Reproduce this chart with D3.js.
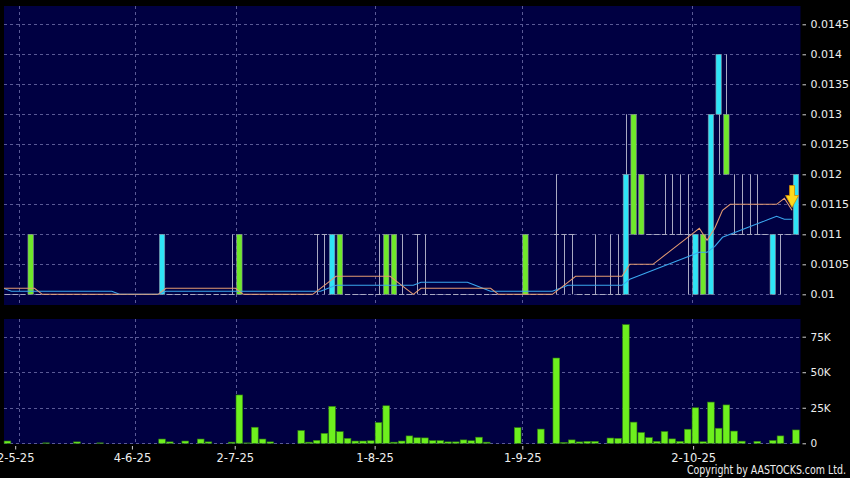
<!DOCTYPE html>
<html>
<head>
<meta charset="utf-8">
<script src="https://cdn.jsdelivr.net/npm/d3@7"></script>
<style>
  html, body { margin: 0; padding: 0; background: #000; }
  svg { display: block; font-family: "DejaVu Sans", Verdana, sans-serif; }
</style>
</head>
<body>
<svg id="chart" width="850" height="478"></svg>
<script>
// daily candles, one slot per trading day (slot 0 .. 102)
const opens = [
  0.01,0.01,0.01,0.011,0.01,0.01,0.01,0.01,0.01,0.01,
  0.01,0.01,0.01,0.01,0.01,0.01,0.01,0.01,0.01,0.01,
  0.01,0.01,0.01,0.01,0.01,0.01,0.01,0.01,0.01,0.01,
  0.011,0.01,0.01,0.01,0.01,0.01,0.01,0.01,0.01,0.01,
  0.011,0.011,0.01,0.011,0.01,0.01,0.01,0.01,0.01,0.011,
  0.011,0.01,0.01,0.011,0.01,0.01,0.01,0.01,0.01,0.01,
  0.01,0.01,0.01,0.01,0.01,0.01,0.01,0.011,0.01,0.01,
  0.01,0.011,0.011,0.011,0.01,0.01,0.01,0.01,0.01,0.01,
  0.01,0.013,0.012,0.011,0.011,0.011,0.011,0.011,0.011,0.01,
  0.011,0.01,0.013,0.013,0.011,0.011,0.011,0.011,0.011,0.01,
  0.011,0.011,0.011
];
const highs = [
  0.01,0.01,0.01,0.011,0.01,0.01,0.01,0.01,0.01,0.01,
  0.01,0.01,0.01,0.01,0.01,0.01,0.01,0.01,0.01,0.01,
  0.011,0.01,0.01,0.01,0.01,0.01,0.01,0.01,0.01,0.011,
  0.011,0.01,0.01,0.01,0.01,0.01,0.01,0.01,0.01,0.01,
  0.011,0.011,0.011,0.011,0.01,0.01,0.01,0.01,0.011,0.011,
  0.011,0.011,0.01,0.011,0.011,0.01,0.01,0.01,0.01,0.01,
  0.01,0.01,0.01,0.01,0.01,0.01,0.01,0.011,0.01,0.01,
  0.01,0.012,0.011,0.011,0.01,0.01,0.011,0.01,0.011,0.011,
  0.013,0.013,0.012,0.011,0.011,0.012,0.012,0.012,0.012,0.011,
  0.011,0.013,0.014,0.014,0.012,0.012,0.012,0.012,0.011,0.011,
  0.011,0.011,0.012
];
const lows = [
  0.01,0.01,0.01,0.01,0.01,0.01,0.01,0.01,0.01,0.01,
  0.01,0.01,0.01,0.01,0.01,0.01,0.01,0.01,0.01,0.01,
  0.01,0.01,0.01,0.01,0.01,0.01,0.01,0.01,0.01,0.01,
  0.01,0.01,0.01,0.01,0.01,0.01,0.01,0.01,0.01,0.01,
  0.01,0.01,0.01,0.01,0.01,0.01,0.01,0.01,0.01,0.01,
  0.01,0.01,0.01,0.01,0.01,0.01,0.01,0.01,0.01,0.01,
  0.01,0.01,0.01,0.01,0.01,0.01,0.01,0.01,0.01,0.01,
  0.01,0.01,0.01,0.01,0.01,0.01,0.01,0.01,0.01,0.01,
  0.01,0.011,0.011,0.011,0.011,0.011,0.011,0.011,0.01,0.01,
  0.01,0.01,0.012,0.012,0.011,0.011,0.011,0.011,0.011,0.01,
  0.01,0.011,0.011
];
const closes = [
  0.01,0.01,0.01,0.01,0.01,0.01,0.01,0.01,0.01,0.01,
  0.01,0.01,0.01,0.01,0.01,0.01,0.01,0.01,0.01,0.01,
  0.011,0.01,0.01,0.01,0.01,0.01,0.01,0.01,0.01,0.01,
  0.01,0.01,0.01,0.01,0.01,0.01,0.01,0.01,0.01,0.01,
  0.011,0.011,0.011,0.01,0.01,0.01,0.01,0.01,0.01,0.01,
  0.01,0.01,0.01,0.011,0.01,0.01,0.01,0.01,0.01,0.01,
  0.01,0.01,0.01,0.01,0.01,0.01,0.01,0.01,0.01,0.01,
  0.01,0.011,0.011,0.011,0.01,0.01,0.01,0.01,0.01,0.01,
  0.012,0.011,0.011,0.011,0.011,0.011,0.011,0.011,0.011,0.011,
  0.01,0.013,0.014,0.012,0.011,0.011,0.011,0.011,0.011,0.011,
  0.011,0.011,0.012
];
// volume in thousands of shares
const volumes = [
  1.6,0,0,0,0,0.3,0,0,0,1.0,
  0,0,0.3,0,0,0,0,0,0,0,
  3.0,1.0,0,1.6,0,3.0,1.0,0,0,0.8,
  34,0.3,11.3,3.0,1.0,0,0,0,9.0,0.8,
  2.1,7.0,26,8.2,3.5,1.6,1.6,1.8,14.6,26.4,
  0.8,1.6,5.2,3.9,3.8,1.9,1.9,1.0,1.0,2.4,
  1.8,4.3,0.8,0,0,0,11,0,0,10,
  0,60,0.6,2.4,1.0,1.4,1.4,0,3.7,3.5,
  83.5,14.9,7.6,4.0,1.4,8.3,3.1,1.4,9.9,25,
  1.1,29,10.6,27,8.6,1.5,0,1.4,0,2.0,
  5.2,0,9.4
];
// moving averages, starting at slot -1 (orange = 10 day, blue = 20 day)
const maStart = -1;
const ma10 = [
  0.0101,0.0101,0.0101,0.0101,0.0101,
  0.01,0.01,0.01,0.01,0.01,0.01,0.01,0.01,0.01,0.01,0.01,0.01,0.01,0.01,0.01,0.01,
  0.0101,0.0101,0.0101,0.0101,0.0101,0.0101,0.0101,0.0101,0.0101,0.0101,
  0.01,0.01,0.01,0.01,0.01,0.01,0.01,0.01,0.01,0.01,
  0.0101,0.0102,0.0103,0.0103,0.0103,0.0103,0.0103,0.0103,0.0103,0.0103,
  0.0102,0.0101,0.01,
  0.0101,0.0101,0.0101,0.0101,0.0101,0.0101,0.0101,0.0101,0.0101,0.0101,
  0.01,0.01,0.01,0.01,0.01,0.01,0.01,0.01,
  0.0101,0.0102,0.0103,0.0103,0.0103,0.0103,0.0103,0.0103,0.0103,
  0.0105,0.0105,0.0105,0.0105,0.0106,0.0107,0.0108,0.0109,0.011,0.0111,
  0.0109,0.0111,0.0114,0.0115,0.0115,0.0115,0.0115,0.0115,0.0115,0.0115,
  0.0116,0.0114
];
const ma20 = [
  0.0101,
  0.01005,0.01005,0.01005,0.01005,0.01005,0.01005,0.01005,0.01005,0.01005,0.01005,0.01005,0.01005,0.01005,0.01005,
  0.01,0.01,0.01,0.01,0.01,0.01,
  0.01005,0.01005,0.01005,0.01005,0.01005,0.01005,0.01005,0.01005,0.01005,0.01005,
  0.01005,0.01005,0.01005,0.01005,0.01005,0.01005,0.01005,0.01005,0.01005,0.01005,0.01005,
  0.0101,
  0.01015,0.01015,0.01015,0.01015,0.01015,0.01015,0.01015,0.01015,0.01015,0.01015,0.01015,
  0.0102,0.0102,0.0102,0.0102,0.0102,0.0102,0.0102,
  0.01015,0.0101,
  0.01005,0.01005,0.01005,0.01005,0.01005,0.01005,0.01005,0.01005,0.01005,
  0.0101,
  0.01015,0.01015,0.01015,0.01015,0.01015,0.01015,0.01015,0.01015,
  0.01025,0.0103,0.01035,0.0104,0.01045,0.0105,0.01055,0.0106,0.01065,0.0107,
  0.0107,0.0108,0.01095,0.011,0.01105,0.0111,0.01115,0.0112,0.01125,0.0113,
  0.01125,0.01125
];

const priceTicks = [0.01,0.0105,0.011,0.0115,0.012,0.0125,0.013,0.0135,0.014,0.0145];
const volTicks = [0,25,50,75];
const dateLabels = ["2-5-25","4-6-25","2-7-25","1-8-25","1-9-25","2-10-25"];
const dateTickSlots = [1,16.1,29.4,47.5,66.6,88.7];
const dateGridSlots = [1.5,16.5,29.5,47.5,66.5,88.5];
const signal = {slot: 101.5, price: 0.01163};

const mainTop = 6, mainBottom = 305, volTop = 319, volBottom = 444;
const plotLeft = 4, plotRight = 800.5;

const svg = d3.select("#chart");
svg.append("rect").attr("width", 850).attr("height", 478).attr("fill", "#000");

const x = d3.scaleLinear().domain([-0.5, 102.5]).range([3.6, 799.8]);
const y = d3.scaleLinear().domain([0.009822, 0.014805]).range([mainBottom, mainTop]);
const yVol = d3.scaleLinear().domain([0, 87.45]).range([443.3, volTop]);

const gridColor = "#5a5a96";

// panels
svg.append("rect").attr("x", plotLeft).attr("y", mainTop)
  .attr("width", plotRight - plotLeft).attr("height", mainBottom - mainTop).attr("fill", "#000042");
svg.append("rect").attr("x", plotLeft).attr("y", volTop)
  .attr("width", plotRight - plotLeft).attr("height", volBottom - volTop).attr("fill", "#000042");

const defs = svg.append("defs");
defs.append("clipPath").attr("id", "clipMain").append("rect")
  .attr("x", plotLeft).attr("y", mainTop).attr("width", plotRight - plotLeft).attr("height", mainBottom - mainTop);

// grids
svg.append("g").selectAll("line").data(priceTicks).enter().append("line")
  .attr("x1", plotLeft).attr("x2", plotRight)
  .attr("y1", d => Math.round(y(d)) + 0.5).attr("y2", d => Math.round(y(d)) + 0.5)
  .attr("stroke", gridColor).attr("stroke-dasharray", "3,3");
svg.append("g").selectAll("line").data(volTicks).enter().append("line")
  .attr("x1", plotLeft).attr("x2", plotRight)
  .attr("y1", d => Math.round(yVol(d)) + 0.5).attr("y2", d => Math.round(yVol(d)) + 0.5)
  .attr("stroke", gridColor).attr("stroke-dasharray", "3,3");
const vg = svg.append("g");
dateGridSlots.forEach(s => {
  const gx = Math.round(x(s)) + 0.5;
  vg.append("line").attr("x1", gx).attr("x2", gx).attr("y1", mainTop).attr("y2", mainBottom)
    .attr("stroke", gridColor).attr("stroke-dasharray", "3,3");
  vg.append("line").attr("x1", gx).attr("x2", gx).attr("y1", volTop).attr("y2", volBottom)
    .attr("stroke", gridColor).attr("stroke-dasharray", "3,3");
});

// candles
const candles = closes.map((c, i) => ({i, o: opens[i], h: highs[i], l: lows[i], c}));
const cg = svg.append("g").attr("clip-path", "url(#clipMain)");
const bodyW = 5.4;
const wickColor = "#a9a9c2";
cg.selectAll(".wick").data(candles.filter(d => d.h > d.l)).enter().append("line")
  .attr("class", "wick")
  .attr("x1", d => Math.round(x(d.i)) + 0.5).attr("x2", d => Math.round(x(d.i)) + 0.5)
  .attr("y1", d => y(d.h)).attr("y2", d => y(d.l))
  .attr("stroke", wickColor).attr("stroke-width", 1);
cg.selectAll(".doji").data(candles.filter(d => d.o === d.c)).enter().append("line")
  .attr("class", "doji")
  .attr("x1", d => x(d.i) - bodyW / 2).attr("x2", d => x(d.i) + bodyW / 2)
  .attr("y1", d => Math.round(y(d.c)) + 0.5).attr("y2", d => Math.round(y(d.c)) + 0.5)
  .attr("stroke", wickColor).attr("stroke-width", 1);
cg.selectAll(".body").data(candles.filter(d => d.o !== d.c)).enter().append("rect")
  .attr("class", "body")
  .attr("x", d => x(d.i) - bodyW / 2).attr("width", bodyW)
  .attr("y", d => y(Math.max(d.o, d.c)))
  .attr("height", d => Math.abs(y(d.o) - y(d.c)))
  .attr("fill", d => d.c > d.o ? "#2fe4f6" : "#6fe82a")
  .attr("stroke", "#8c8ca0").attr("stroke-width", 0.6);

// moving averages
const maLine = d3.line().x((d, i) => x(maStart + i + 0.5)).y(d => y(d));
cg.append("path").datum(ma20).attr("d", maLine)
  .attr("fill", "none").attr("stroke", "#3aa6ee").attr("stroke-width", 1.1);
cg.append("path").datum(ma10).attr("d", maLine)
  .attr("fill", "none").attr("stroke", "#e39a72").attr("stroke-width", 1.1);

// signal arrow
const ax = x(signal.slot), ay = y(signal.price);
svg.append("path")
  .attr("d", `M${ax - 2.5},${ay - 11} L${ax + 2.5},${ay - 11} L${ax + 2.5},${ay - 1} L${ax + 6.5},${ay - 1} L${ax},${ay + 11} L${ax - 6.5},${ay - 1} L${ax - 2.5},${ay - 1} Z`)
  .attr("fill", "#ffd81c").attr("stroke", "#d68a00").attr("stroke-width", 0.8);

// volume bars
svg.append("g").selectAll("rect").data(volumes.map((v, i) => ({i, v})).filter(d => d.v > 0)).enter().append("rect")
  .attr("x", d => x(d.i) - 3.35).attr("width", 6.7)
  .attr("y", d => yVol(d.v)).attr("height", d => yVol(0) - yVol(d.v))
  .attr("fill", "#6ef01e").attr("stroke", "#2f7d10").attr("stroke-width", 0.6);

// axes
function styleAxis(g, size) {
  g.select(".domain").remove();
  g.selectAll(".tick line").attr("stroke", "#d0d0d0");
  g.selectAll(".tick text").attr("fill", "#eeeeee").attr("font-size", size)
    .attr("font-family", "'DejaVu Sans', Verdana, sans-serif");
}
svg.append("g").attr("transform", "translate(802.5,0)")
  .call(d3.axisRight(y).tickValues(priceTicks).tickFormat(d => String(d)).tickSize(3.5).tickPadding(4.5))
  .call(g => styleAxis(g, 11));
svg.append("g").attr("transform", "translate(802.5,0)")
  .call(d3.axisRight(yVol).tickValues(volTicks).tickFormat(d => d ? d + "K" : "0").tickSize(3.5).tickPadding(4.5))
  .call(g => styleAxis(g, 10.5));
svg.append("g").attr("transform", "translate(0,446)")
  .call(d3.axisBottom(x).tickValues(dateTickSlots).tickFormat((d, i) => dateLabels[i]).tickSize(3.5).tickPadding(4))
  .call(g => styleAxis(g, 11.5));

svg.append("text").attr("x", 846).attr("y", 474).attr("text-anchor", "end")
  .attr("fill", "#eeeeee").attr("font-size", 11.5)
  .attr("textLength", 159).attr("lengthAdjust", "spacingAndGlyphs")
  .text("Copyright by AASTOCKS.com Ltd.");
</script>
</body>
</html>
